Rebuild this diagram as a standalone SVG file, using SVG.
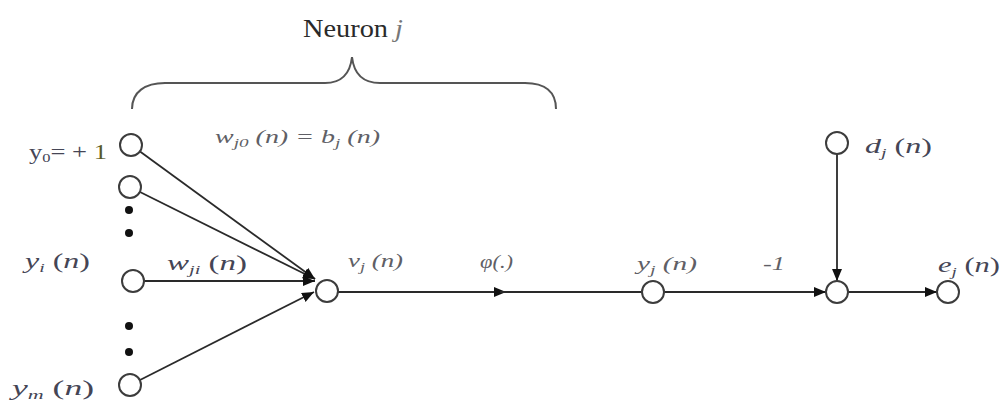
<svg xmlns="http://www.w3.org/2000/svg" width="1003" height="406" viewBox="0 0 1003 406">
<style>
.node{fill:#fff;stroke:#3c3c3c;stroke-width:2}
.dot{fill:#111}
.edge{stroke:#2a2a2a;stroke-width:1.8;fill:none}
.m{font-family:"Liberation Serif","Times New Roman",serif;font-size:21px;fill:#454555}
.g{font-family:"Liberation Serif","Times New Roman",serif;font-size:19px;font-style:italic;fill:#5f5f66}
.i{font-style:italic}
.sub{font-size:13px}
</style>
<defs>
<marker id="arr" markerUnits="userSpaceOnUse" markerWidth="13" markerHeight="11" refX="12" refY="5" orient="auto">
<path d="M0,0 L12,5 L0,10 z" fill="#111"/>
</marker>
</defs>
<rect width="1003" height="406" fill="#fff"/>

<g id="brace">
<path d="M132,109 C132,92 145,83 165,83 L325,83 C340,83 350,75 352,57 C354,75 364,83 380,83 L525,83 C545,83 556,92 556,109" fill="none" stroke="#555" stroke-width="2"/>
<text x="303" y="37" font-family="Liberation Serif,serif" font-size="26" fill="#2a2a2a" textLength="100" lengthAdjust="spacingAndGlyphs">Neuron <tspan font-style="italic" fill="#777">j</tspan></text>
</g>

<g id="connectors">
<line class="edge" x1="140" y1="151.5" x2="315" y2="279" marker-end="url(#arr)"/>
<line class="edge" x1="140" y1="192" x2="315" y2="279" marker-end="url(#arr)"/>
<line class="edge" x1="144" y1="281" x2="315" y2="281" marker-end="url(#arr)"/>
<line class="edge" x1="140" y1="380" x2="314" y2="292" marker-end="url(#arr)"/>
<line class="edge" x1="338" y1="292" x2="506" y2="292" marker-end="url(#arr)"/>
<line class="edge" x1="500" y1="292" x2="642" y2="292"/>
<line class="edge" x1="664" y1="292" x2="826" y2="292" marker-end="url(#arr)"/>
<line class="edge" x1="837" y1="154" x2="837" y2="281" marker-end="url(#arr)"/>
<line class="edge" x1="848" y1="292" x2="937" y2="292" marker-end="url(#arr)"/>
</g>

<g id="input-y0">
<circle class="node" cx="131" cy="145" r="11"/>
<text class="m" x="29" y="159" textLength="78" lengthAdjust="spacingAndGlyphs">y<tspan class="sub" dy="3">0</tspan><tspan dy="-3">= + </tspan><tspan fill="#5a5a28">1</tspan></text>
</g>
<g id="input-2">
<circle class="node" cx="130" cy="187" r="11"/>
</g>
<g id="dots-1">
<circle class="dot" cx="129" cy="210" r="4"/>
<circle class="dot" cx="129" cy="233" r="4"/>
</g>
<g id="input-yi">
<circle class="node" cx="133" cy="281" r="11"/>
<text class="m" x="25" y="268" textLength="65" lengthAdjust="spacingAndGlyphs"><tspan class="i">y</tspan><tspan class="sub i" dy="4">i</tspan><tspan dy="-4"> (</tspan><tspan class="i">n</tspan>)</text>
</g>
<g id="dots-2">
<circle class="dot" cx="129" cy="326" r="4"/>
<circle class="dot" cx="129" cy="352" r="4"/>
</g>
<g id="input-ym">
<circle class="node" cx="130" cy="385" r="11"/>
<text class="m" x="12" y="395" textLength="82" lengthAdjust="spacingAndGlyphs"><tspan class="i">y</tspan><tspan class="sub i" dy="4">m</tspan><tspan dy="-4"> (</tspan><tspan class="i">n</tspan>)</text>
</g>

<g id="weight-labels">
<text class="g" x="215" y="143" textLength="165" lengthAdjust="spacingAndGlyphs">w<tspan class="sub" dy="4">j0</tspan><tspan dy="-4"> (n) = b</tspan><tspan class="sub" dy="4">j</tspan><tspan dy="-4"> (n)</tspan></text>
<text class="m" x="167" y="270" textLength="80" lengthAdjust="spacingAndGlyphs"><tspan class="i">w</tspan><tspan class="sub i" dy="4">ji</tspan><tspan dy="-4"> (</tspan><tspan class="i">n</tspan>)</text>
</g>

<g id="node-vj">
<circle class="node" cx="327" cy="291" r="11"/>
<text class="g" x="348" y="267" textLength="55" lengthAdjust="spacingAndGlyphs">v<tspan class="sub" dy="4">j</tspan><tspan dy="-4"> (n)</tspan></text>
</g>

<g id="phi-label">
<text class="g" x="480" y="268" textLength="33" lengthAdjust="spacingAndGlyphs">φ(.)</text>
</g>

<g id="node-yj">
<circle class="node" cx="653" cy="292" r="11"/>
<text class="g" x="637" y="270" textLength="60" lengthAdjust="spacingAndGlyphs">y<tspan class="sub" dy="4">j</tspan><tspan dy="-4"> (n)</tspan></text>
</g>

<g id="gain-label">
<text class="g" x="763" y="270" textLength="22" lengthAdjust="spacingAndGlyphs">-1</text>
</g>

<g id="node-dj">
<circle class="node" cx="837" cy="143" r="11"/>
<text class="m" x="865" y="153" textLength="67" lengthAdjust="spacingAndGlyphs"><tspan class="i">d</tspan><tspan class="sub i" dy="4">j</tspan><tspan dy="-4"> (</tspan><tspan class="i">n</tspan>)</text>
</g>

<g id="node-sum">
<circle class="node" cx="837" cy="292" r="11"/>
</g>

<g id="node-ej">
<circle class="node" cx="948" cy="292" r="11"/>
<text class="m" x="938" y="272" textLength="62" lengthAdjust="spacingAndGlyphs"><tspan class="i">e</tspan><tspan class="sub i" dy="4">j</tspan><tspan dy="-4"> (</tspan><tspan class="i">n</tspan>)</text>
</g>
</svg>
